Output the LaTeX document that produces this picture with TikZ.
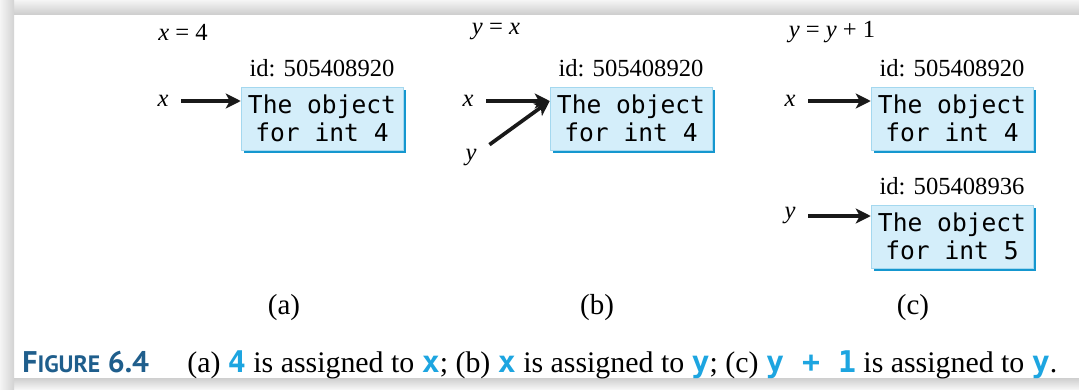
\documentclass[tikz,border=0pt]{standalone}
\usepackage{fontspec}
\setmainfont{Liberation Serif}
\newfontfamily\codefont{DejaVu Sans Mono}
\newfontfamily\figfont{PT Sans}
\usetikzlibrary{arrows.meta,positioning,shadows}
\definecolor{boxfill}{HTML}{D4EEFA}
\definecolor{boxshade}{HTML}{1597CF}
\definecolor{codeblue}{HTML}{1DA5E0}
\definecolor{figblue}{HTML}{1F5E8C}
\newcommand{\cd}[1]{{\codefont\bfseries\color{codeblue}#1}}

\begin{document}
\begin{tikzpicture}[
    x=0.02cm, y=-0.02cm,
    objbox/.style={rectangle, fill=boxfill, draw=boxfill!75!boxshade, line width=0.3pt, minimum width=3.24cm, minimum height=1.26cm, inner sep=0pt, align=center, font=\fontsize{14}{16}\codefont, general shadow={fill=boxshade, shadow xshift=0.06cm, shadow yshift=-0.06cm}},
    idlabel/.style={inner sep=0pt, font=\fontsize{14}{16}\selectfont},
    varlabel/.style={inner sep=0pt, outer sep=0.26cm, font=\fontsize{14}{16}\selectfont\itshape},
    stmt/.style={inner sep=0pt, font=\fontsize{14}{16}\selectfont},
    sublabel/.style={inner sep=0pt, font=\fontsize{16.5}{18}\selectfont},
    ptr/.style={-{Stealth[length=0.3cm,width=0.3cm,inset=0.08cm]}, line width=2.1pt, black!90}
    ]

    % Rahmen
    \useasboundingbox (0,0) rectangle (1079,389);
    \shade[top color=gray!8, bottom color=gray!38] (0,0) rectangle (1079,14);
    \shade[top color=gray!38, bottom color=gray!8] (0,378) rectangle (1079,389);
    \shade[left color=gray!8, right color=gray!35] (0,0) rectangle (14,389);

    % (a) x = 4
    \node[stmt] (stma) at (183,32) {\textit{x} = 4};
    \node[objbox] (boxa) at (322,118.5) {The object\\for int 4};
    \node[idlabel, above=0.19cm of boxa] (ida) {id: 505408920};
    \node[varlabel] (xa) at (163,101) {x};
    \draw[ptr] (xa) -- (xa -| boxa.west);
    \node[sublabel] (suba) at (284,308) {(a)};

    % (b) y = x
    \node[stmt] (stmb) at (496,32) {\textit{y} = \textit{x}};
    \node[objbox] (boxb) at (631,118.5) {The object\\for int 4};
    \node[idlabel, above=0.19cm of boxb] (idb) {id: 505408920};
    \node[varlabel] (xb) at (468,101) {x};
    \node[varlabel] (yb) at (471,158) {y};
    \coordinate (tipb) at (xb -| boxb.west);
    \draw[ptr] (xb) -- (tipb);
    \draw[ptr] (yb) -- (tipb);
    \node[sublabel] (subb) at (597,308) {(b)};

    % (c) y = y + 1
    \node[stmt] (stmc) at (832,32) {\textit{y} = \textit{y} + 1};
    \node[objbox] (boxc) at (952,118.5) {The object\\for int 4};
    \node[idlabel, above=0.19cm of boxc] (idc) {id: 505408920};
    \node[varlabel] (xc) at (790,101) {x};
    \draw[ptr] (xc) -- (xc -| boxc.west);
    \node[objbox] (boxd) at (952,236.5) {The object\\for int 5};
    \node[idlabel, above=0.19cm of boxd] (idd) {id: 505408936};
    \node[varlabel] (yc) at (790,216) {y};
    \draw[ptr] (yc) -- (yc -| boxd.west);
    \node[sublabel] (subc) at (913,308) {(c)};

    % Bildunterschrift
    \node[anchor=base west, inner sep=0pt, text=figblue, font=\figfont\bfseries] (figno) at (22,372)
      {{\fontsize{17}{20}\selectfont F}{\fontsize{13.5}{20}\selectfont IGURE}\fontsize{17}{20}\selectfont\ 6.4};
    \node[anchor=base west, inner sep=0pt, font=\fontsize{17}{20}\selectfont] (caption) at (187,372)
      {(a) \cd{4} is assigned to \cd{x}; (b) \cd{x} is assigned to \cd{y}; (c) \cd{y + 1} is assigned to \cd{y}.};

\end{tikzpicture}
\end{document}
